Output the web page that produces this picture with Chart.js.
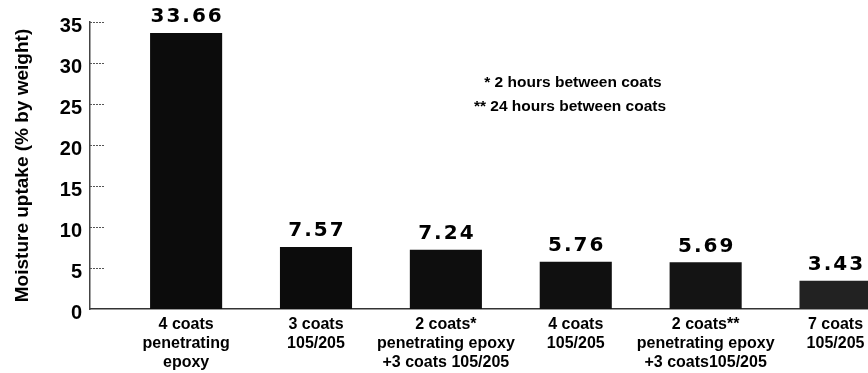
<!DOCTYPE html>
<html>
<head>
<meta charset="utf-8">
<script src="https://cdn.jsdelivr.net/npm/chart.js@4"></script>
<style>
  html, body { margin: 0; padding: 0; background: #fff; overflow: hidden; }
  #wrap { width: 868px; height: 373px; position: relative; }
</style>
</head>
<body>
<div id="wrap"><canvas id="chart"></canvas></div>
<script>
// Chart data
const categories = [
    ['4 coats', 'penetrating', 'epoxy'],
    ['3 coats', '105/205'],
    ['2 coats*', 'penetrating epoxy', '+3 coats 105/205'],
    ['4 coats', '105/205'],
    ['2 coats**', 'penetrating epoxy', '+3 coats105/205'],
    ['7 coats', '105/205']
];
const uptake = [33.66, 7.57, 7.24, 5.76, 5.69, 3.43];
const yTicks = [0, 5, 10, 15, 20, 25, 30, 35];
const notes = ['* 2 hours between coats', '** 24 hours between coats'];

const boldFont = '"Liberation Sans", Arial, sans-serif';
const narrowFont = '"Liberation Sans Narrow", "Liberation Sans", Arial, sans-serif';

// Value labels above bars, short inner tick marks and the footnote text
const extras = {
    id: 'extras',
    afterDatasetsDraw(chart) {
        const ctx = chart.ctx;
        const meta = chart.getDatasetMeta(0);
        ctx.save();
        ctx.fillStyle = '#000';
        ctx.font = 'bold 20px "DejaVu Sans", sans-serif';
        ctx.letterSpacing = '2px';
        ctx.textAlign = 'center';
        ctx.textBaseline = 'bottom';
        meta.data.forEach(function(bar, i) {
            ctx.fillText(uptake[i].toFixed(2), bar.x + 1, bar.y - 6);
        });
        ctx.letterSpacing = '0px';

        // short tick marks drawn inside the plot
        const y = chart.scales.y;
        ctx.strokeStyle = '#555';
        ctx.lineWidth = 1;
        ctx.setLineDash([2, 1]);
        yTicks.forEach(function(t) {
            if (t === 0) return;
            const py = Math.round(y.getPixelForValue(t)) + 0.5;
            ctx.beginPath();
            ctx.moveTo(y.right, py);
            ctx.lineTo(y.right + 15, py);
            ctx.stroke();
        });
        ctx.setLineDash([]);

        // footnotes
        ctx.font = 'bold 15.5px ' + narrowFont;
        ctx.textAlign = 'center';
        ctx.textBaseline = 'middle';
        ctx.fillText(notes[0], 573, 83);
        ctx.fillText(notes[1], 570, 107);
        ctx.restore();
    }
};

new Chart(document.getElementById('chart'), {
    type: 'bar',
    data: {
        datasets: [{
            data: uptake.map(function(v, i) { return { x: i, y: v }; }),
            backgroundColor: ['#0c0c0c', '#0c0c0c', '#0e0e0e', '#101010', '#141414', '#222222'],
            borderWidth: 0,
            categoryPercentage: 1,
            barPercentage: 0.555
        }]
    },
    options: {
        responsive: true,
        maintainAspectRatio: false,
        animation: false,
        layout: { padding: { top: 22, right: 0, bottom: 0, left: 0 } },
        plugins: {
            legend: { display: false },
            tooltip: { enabled: false }
        },
        scales: {
            x: {
                type: 'linear',
                offset: false,
                min: -0.74,
                max: 5.25,
                grid: { display: false, drawTicks: false },
                border: { display: true, color: '#333', width: 1.5 },
                afterBuildTicks: function(scale) {
                    scale.ticks = categories.map(function(c, i) { return { value: i }; });
                },
                afterFit: function(scale) {
                    scale.height = 64;
                    scale.paddingLeft = 0;
                    scale.paddingRight = 0;
                },
                ticks: {
                    autoSkip: false,
                    maxRotation: 0,
                    padding: 6,
                    color: '#000',
                    font: { family: narrowFont, size: 16, weight: 'bold', lineHeight: 1.18 },
                    callback: function(v) { return categories[v]; }
                }
            },
            y: {
                min: 0,
                max: 35,
                grid: { display: false, drawTicks: false },
                border: { display: true, color: '#444', width: 1.5 },
                afterBuildTicks: function(scale) {
                    scale.ticks = yTicks.map(function(t) { return { value: t }; });
                },
                afterFit: function(scale) {
                    scale.width = 90;
                },
                ticks: {
                    padding: 8,
                    labelOffset: 4,
                    color: '#000',
                    font: { family: narrowFont, size: 20, weight: 'bold' }
                },
                title: {
                    display: true,
                    text: 'Moisture uptake (% by weight)',
                    color: '#000',
                    font: { family: boldFont, size: 19, weight: 'bold' },
                    padding: { top: 11, bottom: 0 }
                }
            }
        }
    },
    plugins: [extras]
});
</script>
</body>
</html>
